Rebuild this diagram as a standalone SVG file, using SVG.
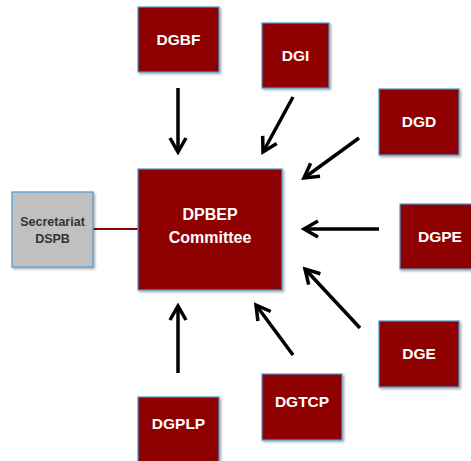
<svg xmlns="http://www.w3.org/2000/svg" width="471" height="461" viewBox="0 0 471 461">
<style>
.box{fill:#8f0000;stroke:#4a9ad6;stroke-width:1.2;filter:url(#sh)}
.sec{fill:#c0c0c0;stroke:#4a9ad6;stroke-width:1.2;filter:url(#sh)}
.t{font-family:"Liberation Sans",Arial,sans-serif;font-weight:bold;font-size:15.5px;fill:#fff;text-anchor:middle}
.st{font-family:"Liberation Sans",Arial,sans-serif;font-weight:bold;font-size:12.5px;fill:#333;text-anchor:middle}
.ar{stroke:#000;stroke-width:3.5;fill:none;marker-end:url(#ah)}
</style>
<defs>
<filter id="sh" x="-10%" y="-10%" width="130%" height="130%">
<feDropShadow dx="1.5" dy="1.5" stdDeviation="1" flood-color="#000" flood-opacity="0.35"/>
</filter>
<marker id="ah" markerUnits="userSpaceOnUse" viewBox="0 0 20 20" markerWidth="20" markerHeight="20" refX="17" refY="10" orient="auto">
<path d="M3,2 L17,10 L3,18" fill="none" stroke="#000" stroke-width="3.5" stroke-linejoin="miter"/>
</marker>
</defs>
<rect width="471" height="461" fill="#fff"/>
<g id="connectors">
<line x1="93" y1="229" x2="138" y2="229" stroke="#8f0000" stroke-width="2"/>
<line class="ar" x1="178" y1="88" x2="178" y2="152"/>
<line class="ar" x1="293" y1="97" x2="263" y2="152"/>
<line class="ar" x1="359" y1="138" x2="304" y2="178"/>
<line class="ar" x1="379" y1="229" x2="304" y2="229"/>
<line class="ar" x1="360" y1="328" x2="305" y2="269"/>
<line class="ar" x1="293" y1="355" x2="256" y2="305"/>
<line class="ar" x1="178" y1="373" x2="178" y2="306"/>
</g>
<g id="secretariat">
<rect class="sec" x="12" y="192" width="81" height="75"/>
<text class="st" x="52.5" y="226">Secretariat</text>
<text class="st" x="52.5" y="243">DSPB</text>
</g>
<g id="dpbep">
<rect class="box" x="138" y="169" width="144" height="121"/>
<text class="t" x="210" y="220" style="font-size:16px">DPBEP</text>
<text class="t" x="210" y="243" style="font-size:16px">Committee</text>
</g>
<g id="dgbf">
<rect class="box" x="138" y="7" width="81" height="65"/>
<text class="t" x="178.5" y="45">DGBF</text>
</g>
<g id="dgi">
<rect class="box" x="262" y="23" width="67" height="65"/>
<text class="t" x="295.5" y="61">DGI</text>
</g>
<g id="dgd">
<rect class="box" x="379" y="89" width="80" height="66"/>
<text class="t" x="419" y="127">DGD</text>
</g>
<g id="dgpe">
<rect class="box" x="400" y="204" width="80" height="65"/>
<text class="t" x="440" y="242">DGPE</text>
</g>
<g id="dge">
<rect class="box" x="379" y="321" width="80" height="66"/>
<text class="t" x="419" y="359">DGE</text>
</g>
<g id="dgtcp">
<rect class="box" x="262" y="374" width="80" height="66"/>
<text class="t" x="302" y="407">DGTCP</text>
</g>
<g id="dgplp">
<rect class="box" x="138" y="397" width="81" height="70"/>
<text class="t" x="178.5" y="429">DGPLP</text>
</g>
</svg>
